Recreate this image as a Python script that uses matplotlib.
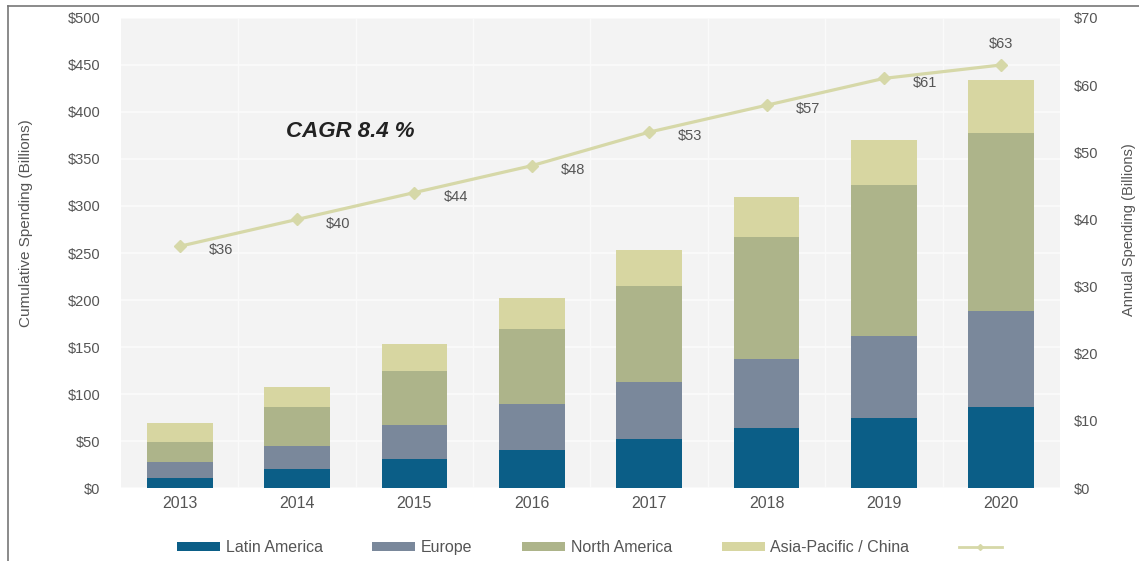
import numpy as np
import matplotlib
matplotlib.use("Agg")
import matplotlib.pyplot as plt
from matplotlib.lines import Line2D
from matplotlib.patches import Patch

plt.rcParams['font.family'] = ['Liberation Sans', 'DejaVu Sans']

# data
years = ['2013', '2014', '2015', '2016', '2017', '2018', '2019', '2020']
latin_america = [11, 20, 31, 40, 52, 64, 74, 86]
europe = [17, 25, 36, 49, 61, 73, 88, 102]
north_america = [21, 41, 58, 80, 102, 130, 160, 190]
asia_pacific = [20, 22, 28, 33, 38, 43, 48, 56]
annual = [36, 40, 44, 48, 53, 57, 61, 63]
series_names = ['Latin America', 'Europe', 'North America', 'Asia-Pacific / China']

c_la = '#0b5e87'
c_eu = '#7a889b'
c_na = '#adb48a'
c_ap = '#d7d6a1'
c_line = '#d6d8a8'
c_txt = '#555555'

fig = plt.figure(figsize=(11.39, 5.61), dpi=100)
ax = fig.add_axes([0.1062, 0.130, 0.8244, 0.838])
ax2 = ax.twinx()

x = np.arange(len(years))
w = 0.56
stack = [latin_america, europe, north_america, asia_pacific]
colors = [c_la, c_eu, c_na, c_ap]
bottom = np.zeros(len(years))
for vals, col in zip(stack, colors):
    ax.bar(x, vals, w, bottom=bottom, color=col, zorder=3)
    bottom = bottom + np.array(vals)

ax.set_facecolor('#f3f3f3')
ax.set_xlim(-0.5, len(years) - 0.5)
ax.set_ylim(0, 500)
ax.set_yticks(range(0, 501, 50))
ax.set_yticklabels(['$%d' % v for v in range(0, 501, 50)])
ax.set_xticks(x)
ax.set_xticklabels(years)
ax.set_xticks(x[:-1] + 0.5, minor=True)
ax.grid(axis='y', color='#fbfbfb', linewidth=1.2, zorder=0)
ax.grid(axis='x', which='minor', color='#fafafa', linewidth=1.0, zorder=0)
ax.set_axisbelow(True)
for s in ax.spines.values():
    s.set_visible(False)
for s in ax2.spines.values():
    s.set_visible(False)
ax.tick_params(axis='both', which='both', length=0, colors=c_txt, labelsize=10.5)
ax.tick_params(axis='y', pad=15)
ax.tick_params(axis='x', labelsize=11.5, pad=6)
ax.set_ylabel('Cumulative Spending (Billions)', color=c_txt, fontsize=11)
ax.yaxis.set_label_coords(-0.094, 0.564)

# line on right axis
ax2.plot(x, annual, color=c_line, linewidth=2.3, marker='D', markersize=6, zorder=5)
ax2.set_ylim(0, 70)
ax2.set_yticks(range(0, 71, 10))
ax2.set_yticklabels(['$%d' % v for v in range(0, 71, 10)])
ax2.tick_params(axis='y', length=0, colors=c_txt, labelsize=10.5, pad=10)
ax2.set_ylabel('Annual Spending (Billions)', color=c_txt, fontsize=10.5)
ax2.yaxis.set_label_coords(1.066, 0.55)
for i, v in enumerate(annual):
    if i == len(annual) - 1:
        ax2.annotate('$%d' % v, (x[i], v), xytext=(0, 10), textcoords='offset points',
                     ha='center', va='bottom', color=c_txt, fontsize=10.5)
    else:
        ax2.annotate('$%d' % v, (x[i], v), xytext=(21, -3), textcoords='offset points',
                     ha='left', va='center', color=c_txt, fontsize=10.5)

ax.text(1.45, 379, 'CAGR 8.4 %', fontsize=16, fontweight='bold', fontstyle='italic',
        color='#222222', ha='center', va='center', zorder=6)

# legend
handles = [Patch(facecolor=c, edgecolor='none') for c in colors]
handles.append(Line2D([0], [0], color=c_line, linewidth=2, marker='D', markersize=3))
labels = series_names + ['']
fig.legend(handles, labels, loc='center', bbox_to_anchor=(0.52, 0.024), ncol=5, frameon=False,
           fontsize=11.5, handlelength=2.7, handleheight=0.55, columnspacing=3.1, handletextpad=0.35,
           labelcolor=c_txt)

# outer frame
fig.add_artist(Line2D([8 / 1139, 1], [1 - 6 / 561, 1 - 6 / 561], color='#777777', linewidth=1.2))
fig.add_artist(Line2D([8 / 1139, 8 / 1139], [0, 1 - 6 / 561], color='#777777', linewidth=1.2))

fig.savefig('out.png', dpi=100)
